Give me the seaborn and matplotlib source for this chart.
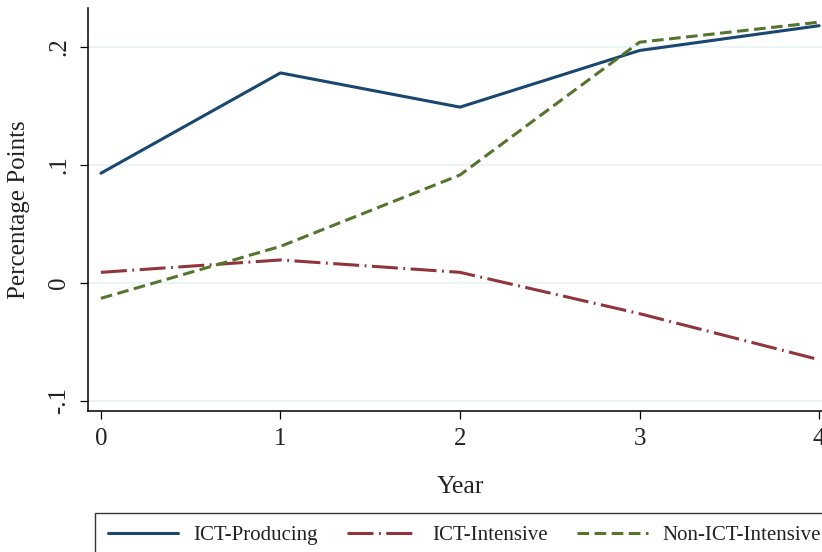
import matplotlib
matplotlib.use("Agg")
import matplotlib.pyplot as plt
import seaborn as sns
import pandas as pd

# Estimated growth contributions by years since start
years = [0, 1, 2, 3, 4]
ict_producing = [0.093, 0.178, 0.149, 0.197, 0.218]
ict_intensive = [0.009, 0.0195, 0.009, -0.026, -0.065]
non_ict_intensive = [-0.013, 0.031, 0.0915, 0.204, 0.221]

series_names = ["ICT-Producing", "ICT-Intensive", "Non-ICT-Intensive"]
y_ticks = [-0.1, 0, 0.1, 0.2]
y_tick_labels = ["-.1", "0", ".1", ".2"]
x_ticks = [0, 1, 2, 3, 4]

df = pd.DataFrame({
    "Year": years * 3,
    "value": ict_producing + ict_intensive + non_ict_intensive,
    "sector": sum([[n] * len(years) for n in series_names], []),
})

sns.set_theme(style="white")
plt.rcParams["font.family"] = ["Liberation Serif", "DejaVu Serif"]

palette = {"ICT-Producing": "#1a476f",
           "ICT-Intensive": "#90353b",
           "Non-ICT-Intensive": "#55752f"}
dashes = {"ICT-Producing": "",
          "ICT-Intensive": (8.5, 1.8, 0.6, 1.8),
          "Non-ICT-Intensive": (3.8, 1.8)}

fig = plt.figure(figsize=(8.22, 5.52), dpi=100)
ax = fig.add_axes([88 / 822, 1 - 411 / 552, 744 / 822, 403 / 552])

sns.lineplot(data=df, x="Year", y="value", hue="sector", style="sector",
             palette=palette, dashes=dashes, linewidth=2.2, ax=ax,
             legend=False)

ax.set_xlim(-0.072, 4.072)
ax.set_ylim(-0.1085, 0.233)

ax.set_yticks(y_ticks)
ax.set_yticklabels(y_tick_labels, rotation=90, va="center")
ax.set_xticks(x_ticks)

ax.grid(axis="y", color="#eaf2f3", linewidth=1.2)
ax.grid(axis="x", visible=False)
ax.set_axisbelow(True)

for side in ("top", "right"):
    ax.spines[side].set_visible(False)
for side in ("left", "bottom"):
    ax.spines[side].set_color("black")
    ax.spines[side].set_linewidth(1.1)

ax.tick_params(axis="both", which="major", direction="out", length=6,
               width=0.9, color="black", labelsize=18, labelcolor="#222222",
               left=True, bottom=True)
ax.tick_params(axis="y", pad=7)
ax.tick_params(axis="x", pad=6)

ax.set_xlabel("Year", fontsize=18.5, labelpad=19, color="#222222")
ax.set_ylabel("Percentage Points", fontsize=18, labelpad=13, color="#222222")

handles = [plt.Line2D([], [], color=palette[n], linewidth=2.2,
                      dashes=dashes[n] if dashes[n] else (None, None),
                      linestyle="-")
           for n in series_names]
leg = fig.legend(handles, series_names, ncol=3, loc="upper left",
                 bbox_to_anchor=(95 / 822, 1 - 513 / 552),
                 frameon=True, fancybox=False, fontsize=15,
                 handlelength=3.4, handletextpad=0.7, columnspacing=1.4,
                 borderpad=0.6, borderaxespad=0)
leg.get_frame().set_edgecolor("black")
leg.get_frame().set_linewidth(1.0)
for t in leg.get_texts():
    t.set_color("#222222")

fig.savefig("out.png", dpi=100)
